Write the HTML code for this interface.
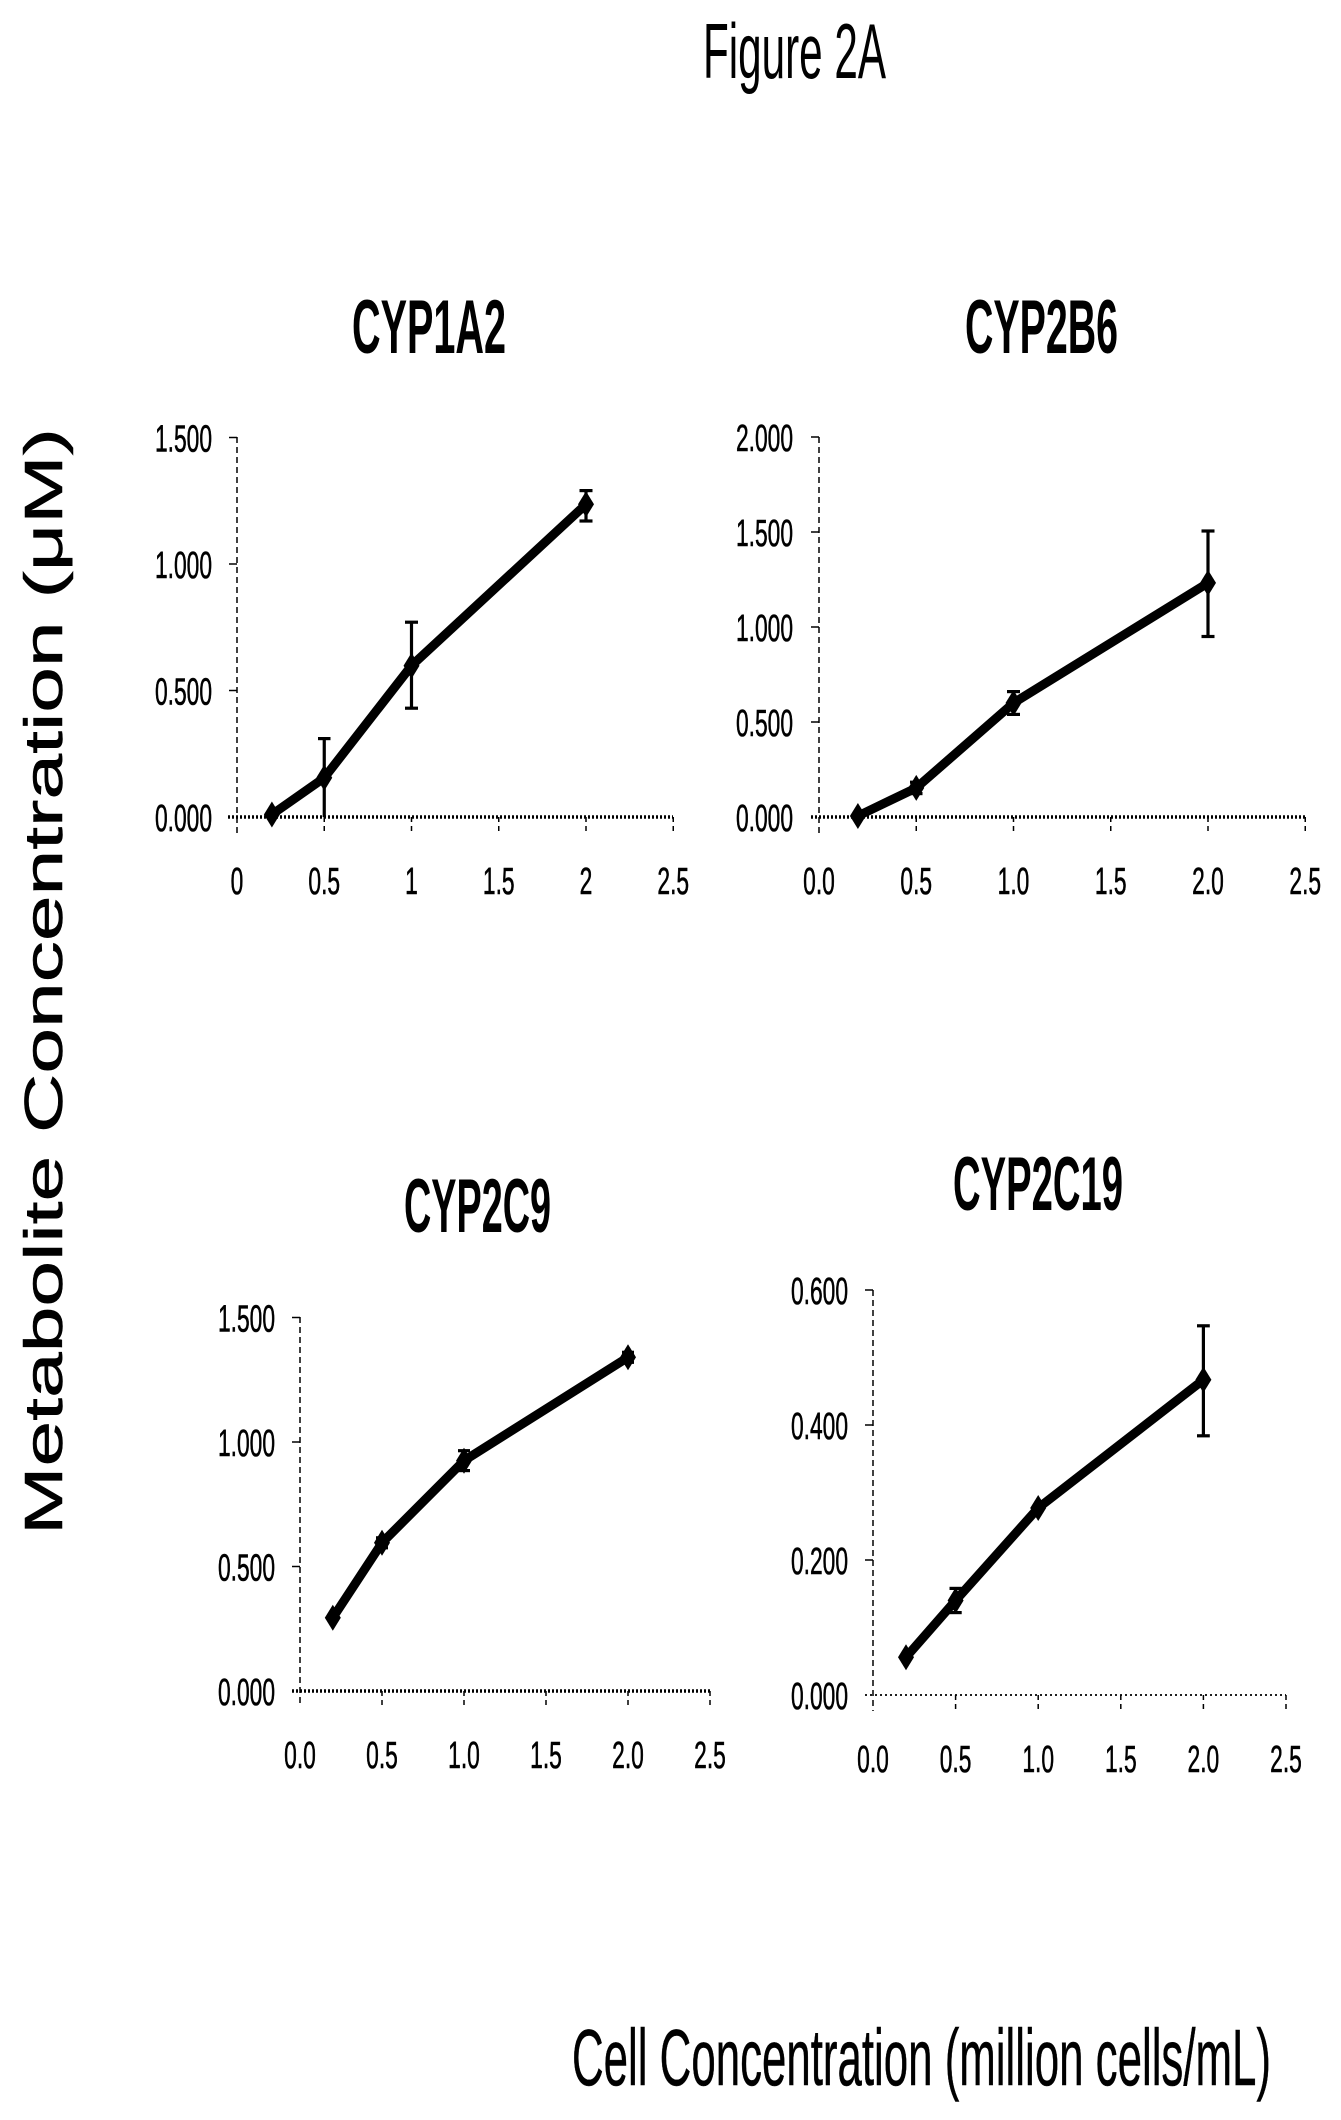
<!DOCTYPE html>
<html>
<head>
<meta charset="utf-8">
<style>
  html, body { margin: 0; padding: 0; background: #fff; }
  svg { display: block; }
  text { font-family: "Liberation Sans", sans-serif; fill: #000; }
  .tk { font-size: 38px; stroke: #000; stroke-width: 0.6px; }
  .ttl { font-size: 76px; font-weight: bold; }
  .big { stroke: #000; stroke-width: 0.5px; }
</style>
</head>
<body>
<svg width="1341" height="2120" viewBox="0 0 1341 2120" xmlns="http://www.w3.org/2000/svg">
  <rect width="1341" height="2120" fill="#fff"/>

  <!-- Figure title -->
  <text x="703" y="78" style="font-size:78px" textLength="183" lengthAdjust="spacingAndGlyphs">Figure 2A</text>

  <!-- Y axis label -->
  <text class="big" transform="translate(62,1535) rotate(-90)" style="font-size:54px" textLength="1107" lengthAdjust="spacingAndGlyphs">Metabolite Concentration (μM)</text>

  <!-- X axis label -->
  <text class="big" x="572" y="2085" style="font-size:80px" textLength="699" lengthAdjust="spacingAndGlyphs">Cell Concentration (million cells/mL)</text>

  <!-- ================= Chart 1: CYP1A2 ================= -->
  <text class="ttl" x="352" y="353" textLength="154" lengthAdjust="spacingAndGlyphs">CYP1A2</text>
  <g stroke="#000" fill="none">
    <line x1="237" y1="437" x2="237" y2="833" stroke-width="1.5" stroke-dasharray="6 4"/>
    <line x1="228" y1="817" x2="673" y2="817" stroke-width="3.5" stroke-dasharray="2 2"/>
    <g stroke-width="1.5">
      <line x1="229" y1="437.5" x2="237" y2="437.5"/>
      <line x1="229" y1="564" x2="237" y2="564"/>
      <line x1="229" y1="690.5" x2="237" y2="690.5"/>
      <line x1="324.25" y1="817" x2="324.25" y2="833" stroke-dasharray="5 4"/>
      <line x1="411.5" y1="817" x2="411.5" y2="833" stroke-dasharray="5 4"/>
      <line x1="498.75" y1="817" x2="498.75" y2="833" stroke-dasharray="5 4"/>
      <line x1="586" y1="817" x2="586" y2="833" stroke-dasharray="5 4"/>
      <line x1="673.25" y1="817" x2="673.25" y2="833" stroke-dasharray="5 4"/>
    </g>
    <g stroke-width="3.2">
      <line x1="324.25" y1="817" x2="324.25" y2="738.6"/><line x1="318" y1="738.6" x2="330.5" y2="738.6"/>
      <line x1="411.5" y1="708.2" x2="411.5" y2="622.2"/><line x1="405" y1="708.2" x2="418" y2="708.2"/><line x1="405" y1="622.2" x2="418" y2="622.2"/>
      <line x1="586" y1="521" x2="586" y2="490.6"/><line x1="579.5" y1="521" x2="592.5" y2="521"/><line x1="579.5" y1="490.6" x2="592.5" y2="490.6"/>
    </g>
    <polyline points="271.9,814.5 324.25,777.8 411.5,665.7 586,504.3" stroke-width="9" stroke-linejoin="round"/>
  </g>
  <g fill="#000">
    <polygon points="271.9,801.5 279.9,814.5 271.9,827.5 263.9,814.5"/>
    <polygon points="324.25,764.8 332.25,777.8 324.25,790.8 316.25,777.8"/>
    <polygon points="411.5,652.7 419.5,665.7 411.5,678.7 403.5,665.7"/>
    <polygon points="586,491.3 594,504.3 586,517.3 578,504.3"/>
  </g>
  <g class="tk" text-anchor="end">
    <text transform="translate(212,451.5) scale(0.6,1)">1.500</text>
    <text transform="translate(212,578) scale(0.6,1)">1.000</text>
    <text transform="translate(212,704.5) scale(0.6,1)">0.500</text>
    <text transform="translate(212,831) scale(0.6,1)">0.000</text>
  </g>
  <g class="tk" text-anchor="middle">
    <text transform="translate(237,894) scale(0.6,1)">0</text>
    <text transform="translate(324.25,894) scale(0.6,1)">0.5</text>
    <text transform="translate(411.5,894) scale(0.6,1)">1</text>
    <text transform="translate(498.75,894) scale(0.6,1)">1.5</text>
    <text transform="translate(586,894) scale(0.6,1)">2</text>
    <text transform="translate(673.25,894) scale(0.6,1)">2.5</text>
  </g>

  <!-- ================= Chart 2: CYP2B6 ================= -->
  <text class="ttl" x="965" y="353" textLength="153" lengthAdjust="spacingAndGlyphs">CYP2B6</text>
  <g stroke="#000" fill="none">
    <line x1="819" y1="437" x2="819" y2="833" stroke-width="1.5" stroke-dasharray="6 4"/>
    <line x1="811" y1="817" x2="1305" y2="817" stroke-width="3.5" stroke-dasharray="2 2"/>
    <g stroke-width="1.5">
      <line x1="811" y1="437" x2="819" y2="437"/>
      <line x1="811" y1="532" x2="819" y2="532"/>
      <line x1="811" y1="627" x2="819" y2="627"/>
      <line x1="811" y1="722" x2="819" y2="722"/>
      <line x1="916.25" y1="817" x2="916.25" y2="833" stroke-dasharray="5 4"/>
      <line x1="1013.5" y1="817" x2="1013.5" y2="833" stroke-dasharray="5 4"/>
      <line x1="1110.75" y1="817" x2="1110.75" y2="833" stroke-dasharray="5 4"/>
      <line x1="1208" y1="817" x2="1208" y2="833" stroke-dasharray="5 4"/>
      <line x1="1305.25" y1="817" x2="1305.25" y2="833" stroke-dasharray="5 4"/>
    </g>
    <g stroke-width="3.2">
      <line x1="916.25" y1="793.6" x2="916.25" y2="782.2"/><line x1="910" y1="793.6" x2="922.5" y2="793.6"/><line x1="910" y1="782.2" x2="922.5" y2="782.2"/>
      <line x1="1013.5" y1="714.4" x2="1013.5" y2="691.6"/><line x1="1007" y1="714.4" x2="1020" y2="714.4"/><line x1="1007" y1="691.6" x2="1020" y2="691.6"/>
      <line x1="1208" y1="636.5" x2="1208" y2="531"/><line x1="1201.5" y1="636.5" x2="1214.5" y2="636.5"/><line x1="1201.5" y1="531" x2="1214.5" y2="531"/>
    </g>
    <polyline points="857.9,816 916.25,787.9 1013.5,703 1208,582.9" stroke-width="9" stroke-linejoin="round"/>
  </g>
  <g fill="#000">
    <polygon points="857.9,803 865.9,816 857.9,829 849.9,816"/>
    <polygon points="916.25,774.9 924.25,787.9 916.25,800.9 908.25,787.9"/>
    <polygon points="1013.5,690 1021.5,703 1013.5,716 1005.5,703"/>
    <polygon points="1208,569.9 1216,582.9 1208,595.9 1200,582.9"/>
  </g>
  <g class="tk" text-anchor="end">
    <text transform="translate(793,451) scale(0.6,1)">2.000</text>
    <text transform="translate(793,546) scale(0.6,1)">1.500</text>
    <text transform="translate(793,641) scale(0.6,1)">1.000</text>
    <text transform="translate(793,736) scale(0.6,1)">0.500</text>
    <text transform="translate(793,831) scale(0.6,1)">0.000</text>
  </g>
  <g class="tk" text-anchor="middle">
    <text transform="translate(819,894) scale(0.6,1)">0.0</text>
    <text transform="translate(916.25,894) scale(0.6,1)">0.5</text>
    <text transform="translate(1013.5,894) scale(0.6,1)">1.0</text>
    <text transform="translate(1110.75,894) scale(0.6,1)">1.5</text>
    <text transform="translate(1208,894) scale(0.6,1)">2.0</text>
    <text transform="translate(1305.25,894) scale(0.6,1)">2.5</text>
  </g>

  <!-- ================= Chart 3: CYP2C9 ================= -->
  <text class="ttl" x="404" y="1232" textLength="147" lengthAdjust="spacingAndGlyphs">CYP2C9</text>
  <g stroke="#000" fill="none">
    <line x1="300" y1="1317" x2="300" y2="1707" stroke-width="1.5" stroke-dasharray="6 4"/>
    <line x1="292" y1="1691" x2="710" y2="1691" stroke-width="3.5" stroke-dasharray="2 2"/>
    <g stroke-width="1.5">
      <line x1="292" y1="1317.5" x2="300" y2="1317.5"/>
      <line x1="292" y1="1442" x2="300" y2="1442"/>
      <line x1="292" y1="1566.5" x2="300" y2="1566.5"/>
      <line x1="382" y1="1691" x2="382" y2="1707" stroke-dasharray="5 4"/>
      <line x1="464" y1="1691" x2="464" y2="1707" stroke-dasharray="5 4"/>
      <line x1="546" y1="1691" x2="546" y2="1707" stroke-dasharray="5 4"/>
      <line x1="628" y1="1691" x2="628" y2="1707" stroke-dasharray="5 4"/>
      <line x1="710" y1="1691" x2="710" y2="1707" stroke-dasharray="5 4"/>
    </g>
    <g stroke-width="3.2">
      <line x1="382" y1="1547.8" x2="382" y2="1537.8"/><line x1="376" y1="1547.8" x2="388" y2="1547.8"/><line x1="376" y1="1537.8" x2="388" y2="1537.8"/>
      <line x1="464" y1="1470.6" x2="464" y2="1450.7"/><line x1="458" y1="1470.6" x2="470" y2="1470.6"/><line x1="458" y1="1450.7" x2="470" y2="1450.7"/>
      <line x1="628" y1="1362.3" x2="628" y2="1352.3"/><line x1="622" y1="1362.3" x2="634" y2="1362.3"/><line x1="622" y1="1352.3" x2="634" y2="1352.3"/>
    </g>
    <polyline points="332.8,1617.8 382,1542.8 464,1460.7 628,1357.3" stroke-width="9" stroke-linejoin="round"/>
  </g>
  <g fill="#000">
    <polygon points="332.8,1604.8 340.8,1617.8 332.8,1630.8 324.8,1617.8"/>
    <polygon points="382,1529.8 390,1542.8 382,1555.8 374,1542.8"/>
    <polygon points="464,1447.7 472,1460.7 464,1473.7 456,1460.7"/>
    <polygon points="628,1344.3 636,1357.3 628,1370.3 620,1357.3"/>
  </g>
  <g class="tk" text-anchor="end">
    <text transform="translate(275,1331.5) scale(0.6,1)">1.500</text>
    <text transform="translate(275,1456) scale(0.6,1)">1.000</text>
    <text transform="translate(275,1580.5) scale(0.6,1)">0.500</text>
    <text transform="translate(275,1705) scale(0.6,1)">0.000</text>
  </g>
  <g class="tk" text-anchor="middle">
    <text transform="translate(300,1768) scale(0.6,1)">0.0</text>
    <text transform="translate(382,1768) scale(0.6,1)">0.5</text>
    <text transform="translate(464,1768) scale(0.6,1)">1.0</text>
    <text transform="translate(546,1768) scale(0.6,1)">1.5</text>
    <text transform="translate(628,1768) scale(0.6,1)">2.0</text>
    <text transform="translate(710,1768) scale(0.6,1)">2.5</text>
  </g>

  <!-- ================= Chart 4: CYP2C19 ================= -->
  <text class="ttl" x="953" y="1210" textLength="170" lengthAdjust="spacingAndGlyphs">CYP2C19</text>
  <g stroke="#000" fill="none">
    <line x1="873" y1="1290" x2="873" y2="1711" stroke-width="1.5" stroke-dasharray="6 4"/>
    <line x1="865" y1="1695" x2="1286" y2="1695" stroke-width="1.8" stroke-dasharray="2 3"/>
    <g stroke-width="1.5">
      <line x1="865" y1="1290" x2="873" y2="1290"/>
      <line x1="865" y1="1425" x2="873" y2="1425"/>
      <line x1="865" y1="1560" x2="873" y2="1560"/>
      <line x1="955.6" y1="1695" x2="955.6" y2="1711" stroke-dasharray="5 4"/>
      <line x1="1038.2" y1="1695" x2="1038.2" y2="1711" stroke-dasharray="5 4"/>
      <line x1="1120.8" y1="1695" x2="1120.8" y2="1711" stroke-dasharray="5 4"/>
      <line x1="1203.4" y1="1695" x2="1203.4" y2="1711" stroke-dasharray="5 4"/>
      <line x1="1286" y1="1695" x2="1286" y2="1711" stroke-dasharray="5 4"/>
    </g>
    <g stroke-width="3.2">
      <line x1="955.6" y1="1612.6" x2="955.6" y2="1588.4"/><line x1="949.5" y1="1612.6" x2="961.7" y2="1612.6"/><line x1="949.5" y1="1588.4" x2="961.7" y2="1588.4"/>
      <line x1="1203.4" y1="1435.8" x2="1203.4" y2="1325.8"/><line x1="1197" y1="1435.8" x2="1209.8" y2="1435.8"/><line x1="1197" y1="1325.8" x2="1209.8" y2="1325.8"/>
    </g>
    <polyline points="906,1657.2 955.6,1600.5 1038.2,1508 1203.4,1379.8" stroke-width="9" stroke-linejoin="round"/>
  </g>
  <g fill="#000">
    <polygon points="906,1644.2 914,1657.2 906,1670.2 898,1657.2"/>
    <polygon points="955.6,1587.5 963.6,1600.5 955.6,1613.5 947.6,1600.5"/>
    <polygon points="1038.2,1495 1046.2,1508 1038.2,1521 1030.2,1508"/>
    <polygon points="1203.4,1366.8 1211.4,1379.8 1203.4,1392.8 1195.4,1379.8"/>
  </g>
  <g class="tk" text-anchor="end">
    <text transform="translate(848,1304) scale(0.6,1)">0.600</text>
    <text transform="translate(848,1439) scale(0.6,1)">0.400</text>
    <text transform="translate(848,1574) scale(0.6,1)">0.200</text>
    <text transform="translate(848,1709) scale(0.6,1)">0.000</text>
  </g>
  <g class="tk" text-anchor="middle">
    <text transform="translate(873,1772) scale(0.6,1)">0.0</text>
    <text transform="translate(955.6,1772) scale(0.6,1)">0.5</text>
    <text transform="translate(1038.2,1772) scale(0.6,1)">1.0</text>
    <text transform="translate(1120.8,1772) scale(0.6,1)">1.5</text>
    <text transform="translate(1203.4,1772) scale(0.6,1)">2.0</text>
    <text transform="translate(1286,1772) scale(0.6,1)">2.5</text>
  </g>
</svg>
</body>
</html>
